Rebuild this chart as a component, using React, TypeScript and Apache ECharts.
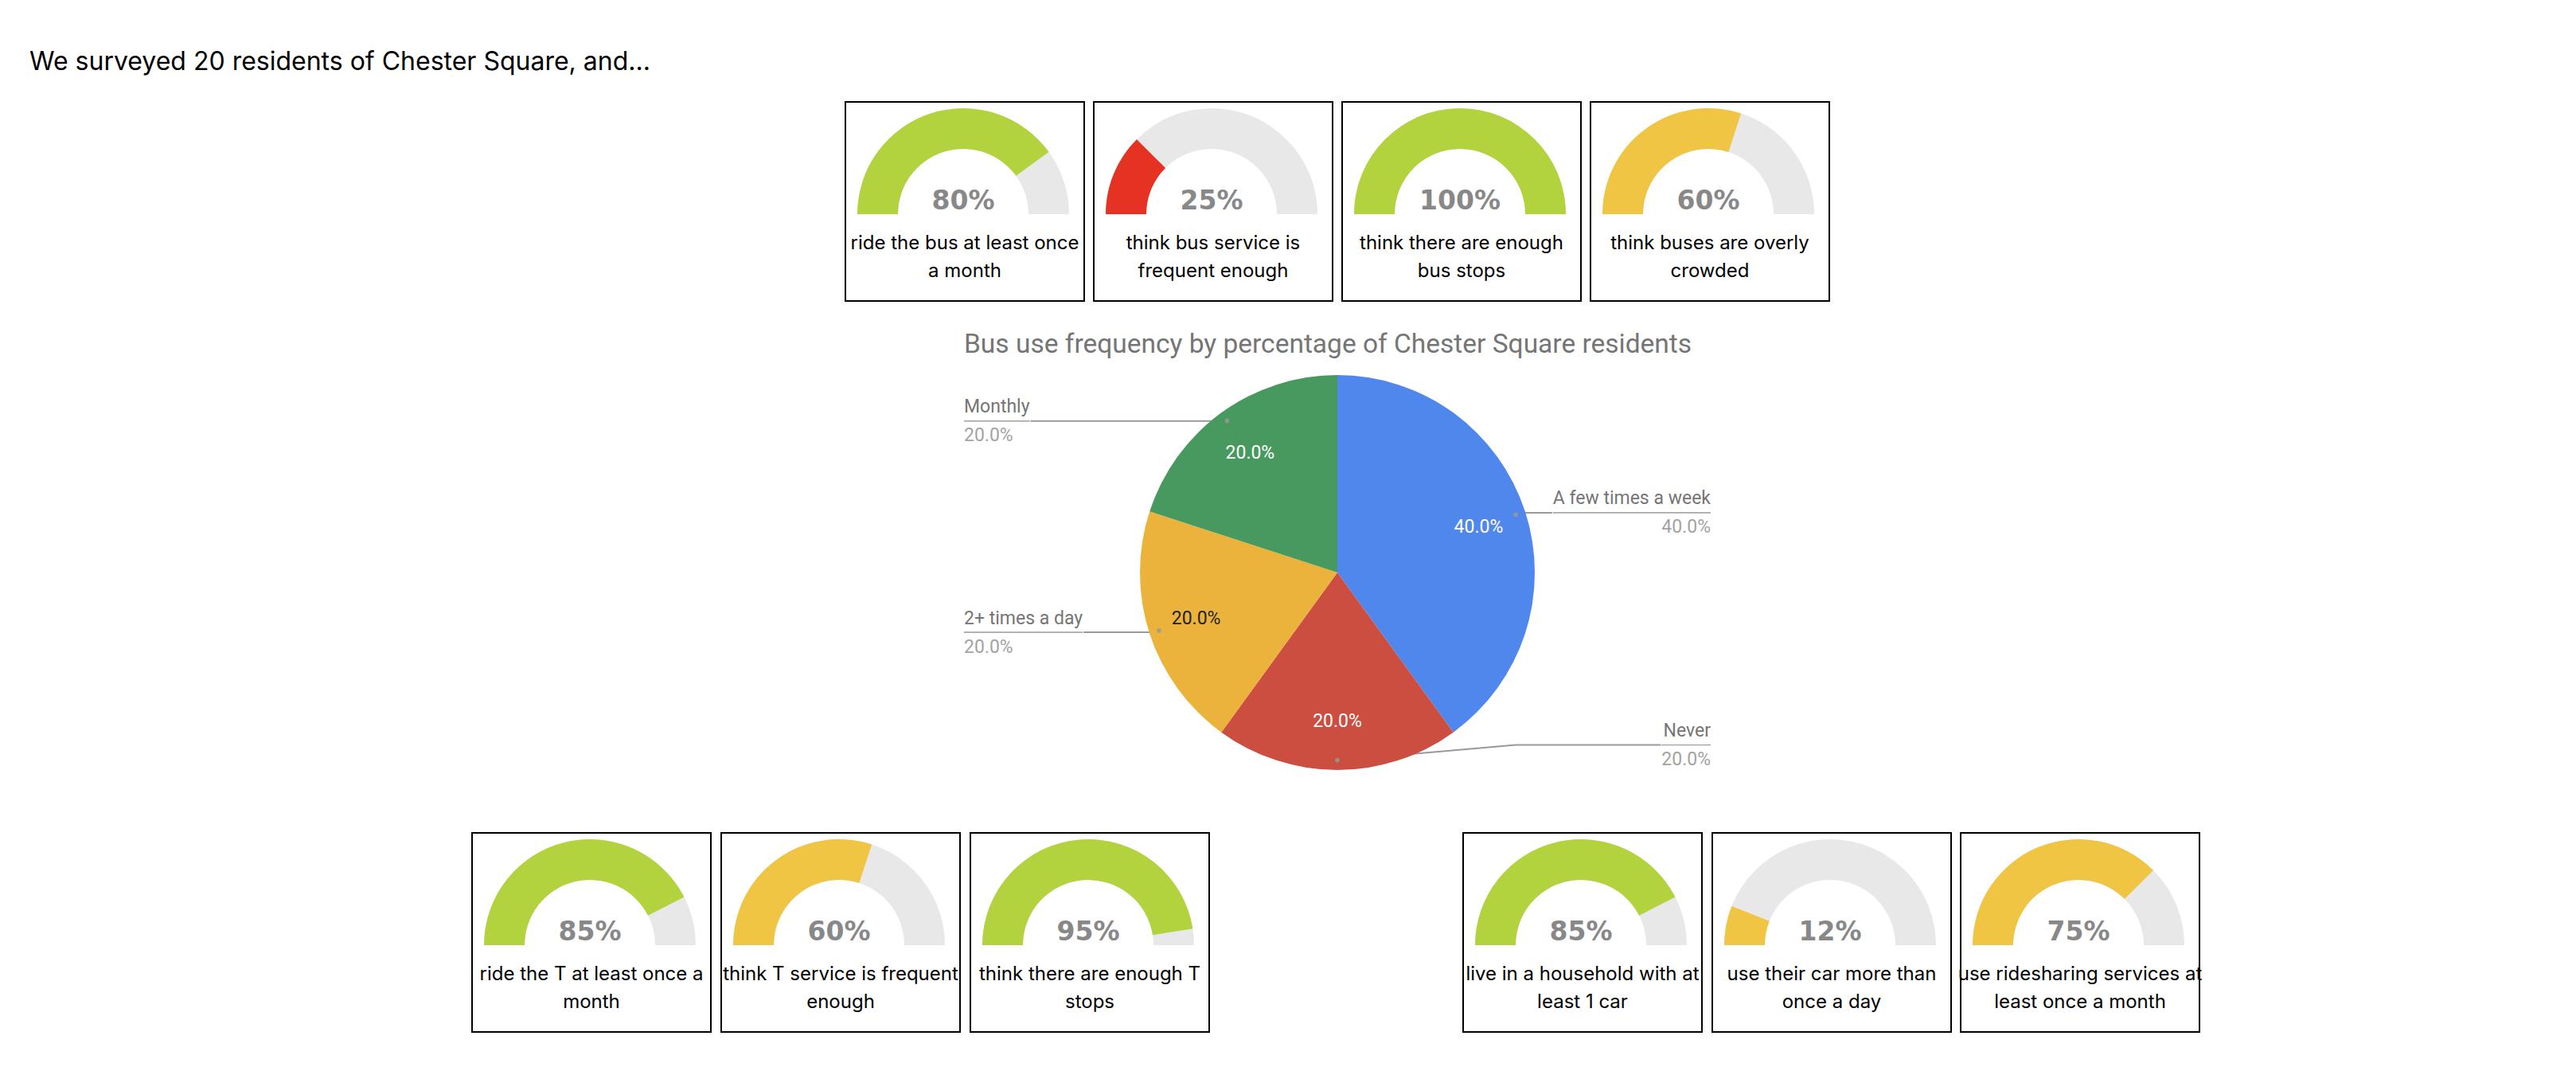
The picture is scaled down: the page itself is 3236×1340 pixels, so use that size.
import React, { useEffect, useRef } from "react";
import * as echarts from "echarts";

// ---------- data ----------
const headline = "We surveyed 20 residents of Chester Square, and...";

const topGaugeValues = [80, 25, 100, 60];
const topGaugeLabels = [
  "ride the bus at least once\na month",
  "think bus service is\nfrequent enough",
  "think there are enough\nbus stops",
  "think buses are overly\ncrowded",
];
const topGaugeTones = ["good", "bad", "good", "fair"];

const bottomGaugeValues = [85, 60, 95, 85, 12, 75];
const bottomGaugeLabels = [
  "ride the T at least once a\nmonth",
  "think T service is frequent\nenough",
  "think there are enough T\nstops",
  "live in a household with at\nleast 1 car",
  "use their car more than\nonce a day",
  "use ridesharing services at\nleast once a month",
];
const bottomGaugeTones = ["good", "fair", "good", "good", "fair", "fair"];

const pieTitle = "Bus use frequency by percentage of Chester Square residents";
const pieCategories = ["A few times a week", "Never", "2+ times a day", "Monthly"];
const pieValues = [40, 20, 20, 20];

// ---------- styles / layout ----------
const W = 3236;
const H = 1340;
const toneColors: Record<string, string> = {
  good: "#b2d23e",
  fair: "#f0c543",
  bad: "#e53223",
};
const pieColors = ["#5087ec", "#cc4e40", "#ebb33c", "#47995f"];
const pieInnerTextColors = ["#ffffff", "#ffffff", "#222222", "#ffffff"];

const BOX_W = 302;
const BOX_H = 252;
const topRowY = 127;
const bottomRowY = 1045;
const topRowX = [1061, 1373, 1685, 1997];
const bottomRowX = [592, 905, 1218, 1837, 2150, 2462];

const PIE_CX = 1680;
const PIE_CY = 719;
const PIE_R = 248;
const PIE_LEFT = 1211;
const PIE_RIGHT = 2149;

const SANS = "Inter, 'Liberation Sans', Arial, sans-serif";
const ROBOTO = "Roboto, Arial, sans-serif";

function gaugeSeries(x: number, y: number, value: number, label: string, tone: string) {
  return {
    type: "gauge",
    center: [x + 149, y + 142],
    radius: 133,
    startAngle: 180,
    endAngle: 0,
    min: 0,
    max: 100,
    silent: true,
    axisLine: { lineStyle: { width: 51, color: [[1, "#e8e8e8"]] } },
    progress: { show: true, width: 51, itemStyle: { color: toneColors[tone] } },
    pointer: { show: false },
    anchor: { show: false },
    axisTick: { show: false },
    splitLine: { show: false },
    axisLabel: { show: false },
    title: {
      show: true,
      offsetCenter: [2, 53],
      fontSize: 24,
      lineHeight: 35,
      color: "#000000",
      fontFamily: SANS,
    },
    detail: {
      show: true,
      offsetCenter: [0, -18],
      formatter: "{value}%",
      fontSize: 33,
      fontWeight: "bold",
      color: "#888888",
      fontFamily: "'DejaVu Sans', Verdana, sans-serif",
    },
    data: [{ value, name: label }],
  };
}

export default function App() {
  const ref = useRef<HTMLDivElement>(null);

  useEffect(() => {
    if (!ref.current) return;
    const chart = echarts.init(ref.current, undefined, { renderer: "svg" });

    const gauges: any[] = [];
    topGaugeValues.forEach((v, i) =>
      gauges.push(gaugeSeries(topRowX[i], topRowY, v, topGaugeLabels[i], topGaugeTones[i]))
    );
    bottomGaugeValues.forEach((v, i) =>
      gauges.push(gaugeSeries(bottomRowX[i], bottomRowY, v, bottomGaugeLabels[i], bottomGaugeTones[i]))
    );

    const boxes: any[] = [];
    topRowX.forEach((x) =>
      boxes.push({
        type: "rect",
        shape: { x: x + 1, y: topRowY + 1, width: BOX_W - 2, height: BOX_H - 2 },
        style: { fill: "none", stroke: "#000", lineWidth: 2 },
        silent: true,
      })
    );
    bottomRowX.forEach((x) =>
      boxes.push({
        type: "rect",
        shape: { x: x + 1, y: bottomRowY + 1, width: BOX_W - 2, height: BOX_H - 2 },
        style: { fill: "none", stroke: "#000", lineWidth: 2 },
        silent: true,
      })
    );

    const pieData = pieCategories.map((name, i) => ({
      name,
      value: pieValues[i],
      itemStyle: { color: pieColors[i] },
    }));
    const total = pieValues.reduce((a, b) => a + b, 0);
    const midPoints: number[][] = [];
    let acc = 0;
    pieValues.forEach((v) => {
      midPoints.push([0.95, acc + v / 2]);
      acc += v;
    });

    const pieBox = {
      left: PIE_LEFT,
      top: 0,
      width: PIE_RIGHT - PIE_LEFT,
      height: H,
      center: [PIE_CX - PIE_LEFT, PIE_CY],
    };

    // the bottom-centred label is lifted and its leader bent, as in the original
    const LIFT = 20;
    const BEND = 0.55;

    chart.setOption({
      animation: false,
      polar: { center: [PIE_CX, PIE_CY], radius: PIE_R },
      angleAxis: {
        type: "value",
        min: 0,
        max: total,
        startAngle: 90,
        clockwise: true,
        show: false,
      },
      radiusAxis: { type: "value", min: 0, max: 1, show: false },
      graphic: [
        {
          type: "text",
          x: 37,
          y: 76,
          silent: true,
          style: {
            text: headline,
            font: `32px ${SANS}`,
            fill: "#000",
            verticalAlign: "middle",
          },
        },
        {
          type: "text",
          x: PIE_LEFT,
          y: 431,
          silent: true,
          style: {
            text: pieTitle,
            font: `33.5px ${ROBOTO}`,
            fill: "#757575",
            verticalAlign: "middle",
          },
        },
        ...boxes,
      ],
      series: [
        ...gauges,
        {
          type: "pie",
          ...pieBox,
          radius: PIE_R,
          startAngle: 90,
          clockwise: true,
          silent: true,
          itemStyle: { borderWidth: 0 },
          label: { show: false },
          labelLine: { show: false },
          data: pieData,
        },
        {
          type: "pie",
          ...pieBox,
          radius: [PIE_R * 0.48, PIE_R],
          startAngle: 90,
          clockwise: true,
          silent: true,
          itemStyle: { color: "rgba(0,0,0,0)", borderWidth: 0 },
          label: {
            show: true,
            position: "inside",
            fontSize: 23,
            fontFamily: ROBOTO,
            formatter: (p: any) => `${p.percent.toFixed(1)}%`,
          },
          labelLine: { show: false },
          data: pieCategories.map((name, i) => ({
            name,
            value: pieValues[i],
            label: { color: pieInnerTextColors[i] },
          })),
        },
        {
          type: "pie",
          ...pieBox,
          radius: PIE_R * 0.95,
          startAngle: 90.5,
          clockwise: true,
          silent: true,
          itemStyle: { color: "rgba(0,0,0,0)", borderWidth: 0 },
          label: {
            show: true,
            position: "outside",
            alignTo: "edge",
            edgeDistance: 0,
            distanceToLabelLine: 0,
            formatter: (p: any) => `{name|${p.name}}\n{hr|}\n{pct|${p.percent.toFixed(1)}%}`,
            rich: {
              name: { fontSize: 23, lineHeight: 34, color: "#757575", fontFamily: ROBOTO },
              hr: { width: "100%", height: 0, lineHeight: 2, borderWidth: 1, borderColor: "#999999" },
              pct: { fontSize: 23, lineHeight: 34, color: "#a3a3a3", fontFamily: ROBOTO },
            },
          },
          labelLine: { show: true, length: 1, length2: 10, lineStyle: { color: "#999999", width: 2 } },
          labelLayout: (params: any) => {
            const pts = params.labelLinePoints;
            if (params.dataIndex !== 1 || !pts || pts.length < 2) return {};
            const p0 = pts[0];
            const pe = pts[pts.length - 1];
            return {
              dy: -LIFT,
              labelLinePoints: [
                [p0[0], p0[1]],
                [p0[0] + (pe[0] - p0[0]) * BEND, pe[1] - LIFT],
                [pe[0], pe[1] - LIFT],
              ],
            };
          },
          data: pieCategories.map((name, i) => ({ name, value: pieValues[i] })),
        },
        {
          type: "scatter",
          coordinateSystem: "polar",
          silent: true,
          symbol: "circle",
          symbolSize: 6,
          itemStyle: { color: "#999999" },
          data: midPoints,
        },
      ],
    });

    return () => chart.dispose();
  }, []);

  return (
    <div
      ref={ref}
      style={{ position: "fixed", left: 0, top: 0, width: W, height: H, background: "#fff" }}
    />
  );
}
